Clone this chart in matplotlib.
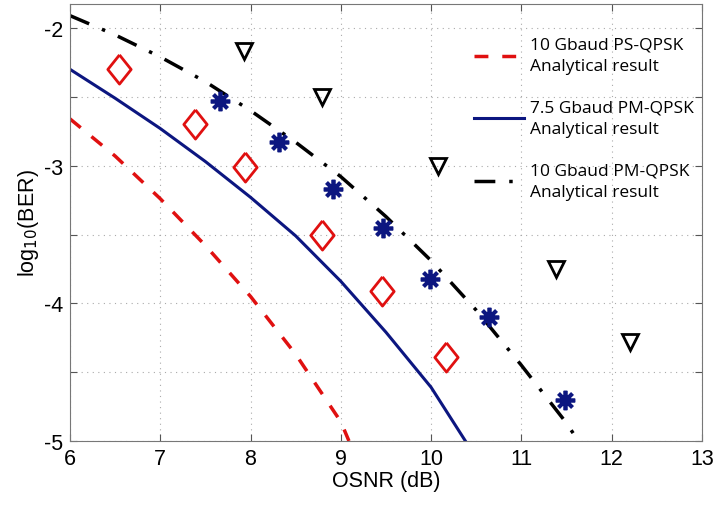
import matplotlib.pyplot as plt
import numpy as np

# analytical curves
osnr_ps = [6.0, 6.5, 7.0, 7.5, 8.0, 8.5, 9.0, 9.09]
ber_ps = [-2.66, -2.93, -3.24, -3.58, -3.95, -4.37, -4.86, -5.0]

osnr_pm75 = [6.0, 6.5, 7.0, 7.5, 8.0, 8.5, 9.0, 9.5, 10.0, 10.38]
ber_pm75 = [-2.30, -2.51, -2.73, -2.97, -3.23, -3.51, -3.84, -4.21, -4.61, -5.0]

osnr_pm10 = [6.0, 6.5, 7.0, 7.5, 8.0, 8.5, 9.0, 9.5, 10.0, 10.5, 11.0, 11.5, 11.63]
ber_pm10 = [-1.91, -2.05, -2.21, -2.39, -2.60, -2.83, -3.08, -3.37, -3.69, -4.05,
            -4.45, -4.87, -5.0]

# measured points
osnr_diamond = [6.54, 7.38, 7.94, 8.79, 9.46, 10.17]
ber_diamond = [-2.30, -2.70, -3.01, -3.50, -3.91, -4.39]

osnr_star = [7.66, 8.31, 8.91, 9.47, 9.99, 10.64, 11.48]
ber_star = [-2.53, -2.83, -3.17, -3.45, -3.82, -4.10, -4.70]

osnr_tri = [7.93, 8.79, 10.08, 11.38, 12.20]
ber_tri = [-2.17, -2.50, -3.00, -3.75, -4.28]

labels = ['10 Gbaud PS-QPSK\nAnalytical result',
          '7.5 Gbaud PM-QPSK\nAnalytical result',
          '10 Gbaud PM-QPSK\nAnalytical result']

plt.rcParams['font.family'] = ['Liberation Sans', 'DejaVu Sans']

fig = plt.figure(figsize=(7.17, 5.06), dpi=100)
ax = fig.add_axes([0.0976, 0.1265, 0.8814, 0.8635])

red = '#e01010'
navy = '#0c1680'

l1, = ax.plot(osnr_ps, ber_ps, '--', color=red, lw=2.5, dashes=(4, 4))
l2, = ax.plot(osnr_pm75, ber_pm75, '-', color=navy, lw=2.2)
l3, = ax.plot(osnr_pm10, ber_pm10, color='black', lw=2.5, dashes=(6, 4, 1, 4))

diamond = [(0, 1), (0.8, 0), (0, -1), (-0.8, 0), (0, 1)]
ax.plot(osnr_diamond, ber_diamond, ls='none', marker=diamond, ms=21,
        mfc='none', mec=red, mew=2)
ax.plot(osnr_star, ber_star, ls='none', marker=(8, 2, 0), ms=14,
        color=navy, mew=2.7)
ax.plot(osnr_tri, ber_tri, ls='none', marker='v', ms=12,
        mfc='none', mec='black', mew=2)

ax.set_xlim(6, 13)
ax.set_ylim(-5, -1.826)
ax.set_xticks(np.arange(6, 14, 1))
ax.set_yticks(np.arange(-5, -1.9, 0.5))
ax.set_yticklabels(['-5', '', '-4', '', '-3', '', '-2'])
ax.tick_params(direction='in', top=True, right=True, labelsize=15.5,
               length=5, color='#555555', pad=5)
for s in ax.spines.values():
    s.set_color('#777777')
ax.grid(True, ls=(0, (1, 4)), color='#aaaaaa', lw=0.8)

ax.set_xlabel('OSNR (dB)', fontsize=15.5, labelpad=1)
ax.set_ylabel('log$_{10}$(BER)', fontsize=15.5, labelpad=2)

leg = ax.legend([l1, l2, l3], labels, loc='upper left',
                bbox_to_anchor=(474 / 717, 1 - 38 / 506),
                bbox_transform=fig.transFigure, borderpad=0, borderaxespad=0,
                frameon=False, handlelength=2.9, handletextpad=0.35,
                labelspacing=1.45, prop={'family': 'Open Sans', 'size': 12.5})
for t in leg.get_texts():
    t.set_linespacing(1.45)

fig.savefig('out.png', dpi=100)
